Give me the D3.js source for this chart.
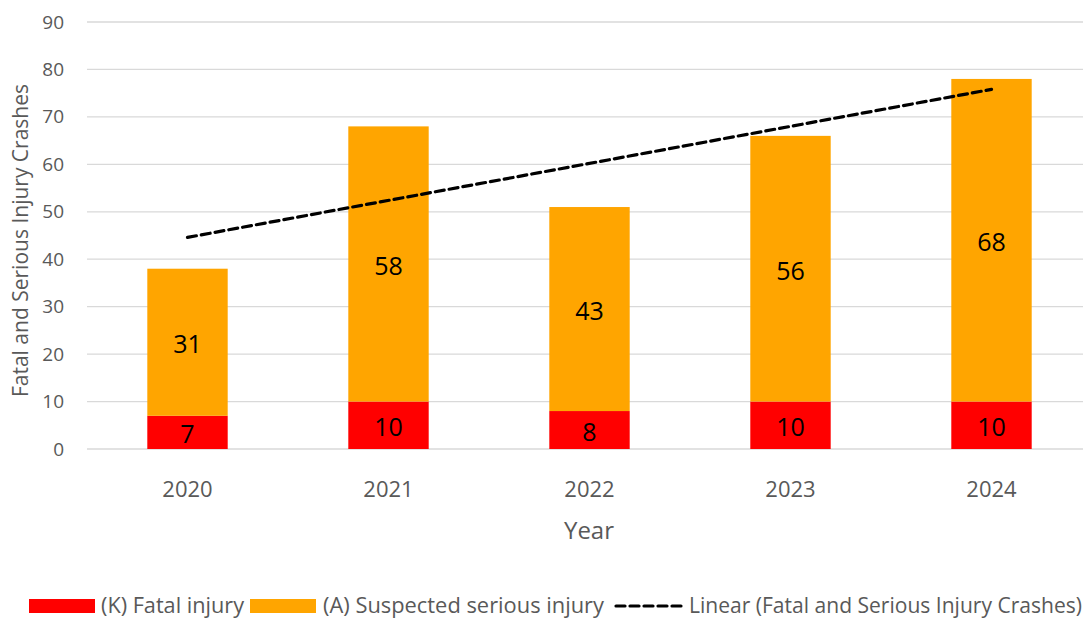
<!DOCTYPE html>
<html>
<head>
<meta charset="utf-8">
<script src="https://cdn.jsdelivr.net/npm/d3@7"></script>
<style>
  html, body { margin: 0; padding: 0; background: #fff; }
  svg { display: block; font-family: "Open Sans", "Noto Sans", sans-serif; }
</style>
</head>
<body>
<svg id="chart" width="1083" height="618"></svg>
<script>
// Crash counts by year and severity
const years = ["2020", "2021", "2022", "2023", "2024"];
const fatal = [7, 10, 8, 10, 10];
const serious = [31, 58, 43, 56, 68];
const yTicks = [0, 10, 20, 30, 40, 50, 60, 70, 80, 90];
const seriesNames = ["(K) Fatal injury", "(A) Suspected serious injury"];
const trendName = "Linear (Fatal and Serious Injury Crashes)";

const svg = d3.select("#chart");
const plotL = 87, plotR = 1092, plotT = 22, plotB = 449;

const x = d3.scaleBand().domain(years).range([plotL, plotR]).paddingInner(0.6).paddingOuter(0.3);
const y = d3.scaleLinear().domain([0, 90]).range([plotB, plotT]);

// Gridlines
svg.append("g").selectAll("line").data(yTicks).join("line")
  .attr("x1", plotL).attr("x2", 1083)
  .attr("y1", d => y(d)).attr("y2", d => y(d))
  .attr("stroke", "#d9d9d9").attr("stroke-width", 1.3);

// Y axis labels
const yAxis = d3.axisLeft(y).tickValues(yTicks).tickSize(0).tickPadding(0);
const ya = svg.append("g").attr("transform", `translate(${plotL - 23},0)`).call(yAxis);
ya.select(".domain").remove();
ya.selectAll("text").attr("fill", "#595959").style("font-size", "19px")
  .style("font-family", "'Open Sans', sans-serif");

// X axis labels
const xAxis = d3.axisBottom(x).tickSize(0).tickPadding(0);
const xa = svg.append("g").attr("transform", `translate(0,${plotB})`).call(xAxis);
xa.select(".domain").remove();
xa.selectAll("text").attr("y", 40).attr("dy", "0.35em")
  .attr("fill", "#595959").style("font-size", "22px")
  .style("font-family", "'Open Sans', sans-serif");

// Stacked data
const rows = years.map((yr, i) => ({ year: yr, fatal: fatal[i], serious: serious[i] }));
const stack = d3.stack().keys(["fatal", "serious"]);
const layers = stack(rows);
const colors = ["#ff0000", "#ffa500"];

svg.append("g").selectAll("g").data(layers).join("g")
  .attr("fill", (d, i) => colors[i])
  .selectAll("rect").data(d => d).join("rect")
  .attr("x", d => x(d.data.year))
  .attr("width", x.bandwidth())
  .attr("y", d => y(d[1]))
  .attr("height", d => y(d[0]) - y(d[1]));

// Segment value labels
svg.append("g").selectAll("g").data(layers).join("g")
  .selectAll("text").data(d => d).join("text")
  .attr("x", d => x(d.data.year) + x.bandwidth() / 2)
  .attr("y", d => y((d[0] + d[1]) / 2) + 2)
  .attr("dy", "0.36em")
  .attr("text-anchor", "middle")
  .attr("fill", "#000")
  .style("font-size", "25px")
  .text(d => d[1] - d[0]);

// Linear trend of yearly totals (least squares over year index)
const totals = rows.map(r => r.fatal + r.serious);
const idx = totals.map((_, i) => i + 1);
const mx = d3.mean(idx), my = d3.mean(totals);
const slope = d3.sum(idx, (v, i) => (v - mx) * (totals[i] - my)) / d3.sum(idx, v => (v - mx) ** 2);
const icpt = my - slope * mx;
const trendPts = [idx[0], idx[idx.length - 1]].map(v => ({ year: years[v - 1], val: icpt + slope * v }));

svg.append("line")
  .attr("x1", x(trendPts[0].year) + x.bandwidth() / 2)
  .attr("y1", y(trendPts[0].val))
  .attr("x2", x(trendPts[1].year) + x.bandwidth() / 2)
  .attr("y2", y(trendPts[1].val))
  .attr("stroke", "#000").attr("stroke-width", 3.2)
  .attr("stroke-dasharray", "9,5").attr("stroke-linecap", "round");

// Axis titles
svg.append("text")
  .attr("x", 589).attr("y", 539)
  .attr("text-anchor", "middle").attr("fill", "#595959")
  .style("font-size", "24px").text("Year");

svg.append("text")
  .attr("transform", `translate(28,${(plotT + plotB) / 2 + 5}) rotate(-90)`)
  .attr("text-anchor", "middle").attr("fill", "#595959")
  .style("font-size", "21px").text("Fatal and Serious Injury Crashes");

// Legend
const lg = svg.append("g").style("font-size", "21px").attr("fill", "#595959");
const legY = 606;
lg.append("rect").attr("x", 29).attr("y", legY - 7).attr("width", 66).attr("height", 14).attr("fill", colors[0]);
lg.append("text").attr("x", 101).attr("y", legY).attr("dy", "0.33em")
  .attr("textLength", 143).attr("lengthAdjust", "spacingAndGlyphs").text(seriesNames[0]);
lg.append("rect").attr("x", 250).attr("y", legY - 7).attr("width", 66).attr("height", 14).attr("fill", colors[1]);
lg.append("text").attr("x", 323).attr("y", legY).attr("dy", "0.33em")
  .attr("textLength", 281).attr("lengthAdjust", "spacingAndGlyphs").text(seriesNames[1]);
lg.append("line").attr("x1", 616).attr("x2", 682).attr("y1", legY).attr("y2", legY)
  .attr("stroke", "#000").attr("stroke-width", 3.2)
  .attr("stroke-dasharray", "9,5").attr("stroke-linecap", "round");
lg.append("text").attr("x", 689).attr("y", legY).attr("dy", "0.33em")
  .attr("textLength", 393).attr("lengthAdjust", "spacingAndGlyphs").text(trendName);
</script>
</body>
</html>
